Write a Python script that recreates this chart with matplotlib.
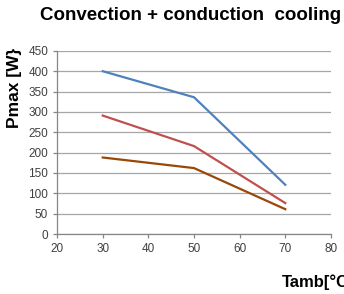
import matplotlib
matplotlib.use("Agg")
import matplotlib.pyplot as plt

tamb = [30, 50, 70]
series_blue = [400, 336, 121]
series_red = [291, 216, 76]
series_brown = [188, 162, 61]
xticks = [20, 30, 40, 50, 60, 70, 80]
yticks = [0, 50, 100, 150, 200, 250, 300, 350, 400, 450]

plt.rcParams['font.family'] = ['Liberation Sans', 'DejaVu Sans']

fig = plt.figure(figsize=(3.44, 2.94), dpi=100)
ax = fig.add_axes([0.166, 0.204, 0.796, 0.623])

ax.plot(tamb, series_blue, color='#4F81BD', lw=1.6)
ax.plot(tamb, series_red, color='#C0504D', lw=1.6)
ax.plot(tamb, series_brown, color='#984807', lw=1.6)

ax.set_xlim(20, 80)
ax.set_ylim(0, 450)
ax.set_xticks(xticks)
ax.set_yticks(yticks)
ax.yaxis.grid(True, color='#A6A6A6', lw=0.9)
ax.set_axisbelow(True)
for s in ['top', 'right']:
    ax.spines[s].set_visible(False)
for s in ['left', 'bottom']:
    ax.spines[s].set_color('#868686')
    ax.spines[s].set_linewidth(0.9)
ax.tick_params(axis='both', colors='#868686', length=3, width=0.9, labelsize=8.5,
               labelcolor='#404040')

fig.text(0.116, 0.948, 'Convection + conduction  cooling', fontsize=13.5,
         fontweight='bold', ha='left', va='center')
fig.text(0.82, 0.041, 'Tamb[°C]', fontsize=12, fontweight='bold', ha='left', va='center')
fig.text(0.043, 0.70, 'Pmax [W}', fontsize=12.5, fontweight='bold', rotation=90,
         ha='center', va='center')

fig.savefig('out.png', dpi=100)
